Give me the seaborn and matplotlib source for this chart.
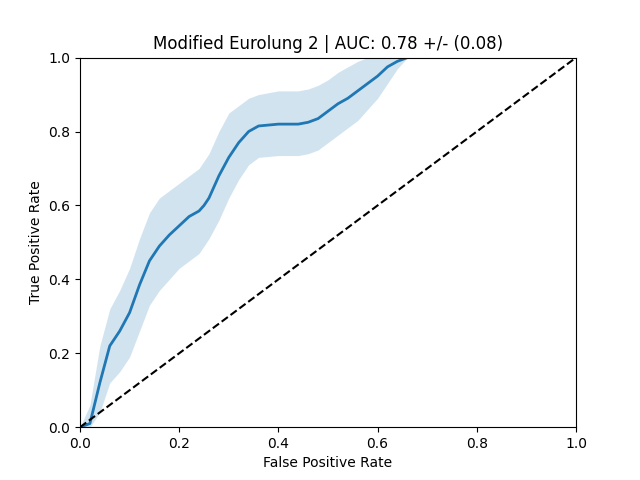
import matplotlib
matplotlib.use("Agg")
import matplotlib.pyplot as plt
import seaborn as sns
import pandas as pd

fpr = [0.0, 0.02, 0.04, 0.06, 0.08, 0.10, 0.12, 0.14, 0.16, 0.18, 0.20, 0.22, 0.24, 0.25, 0.26,
       0.28, 0.30, 0.32, 0.34, 0.36, 0.40, 0.44, 0.46, 0.48, 0.50, 0.52, 0.54, 0.56, 0.58,
       0.60, 0.62, 0.64, 0.66, 0.70, 0.80, 0.90, 1.0]
tpr_mean = [0.0, 0.01, 0.12, 0.22, 0.26, 0.31, 0.385, 0.45, 0.49, 0.52, 0.545, 0.57, 0.585, 0.60, 0.62,
            0.68, 0.73, 0.77, 0.80, 0.815, 0.82, 0.82, 0.825, 0.835, 0.855, 0.875, 0.89, 0.91, 0.93,
            0.95, 0.975, 0.99, 1.0, 1.0, 1.0, 1.0, 1.0]
tpr_upper = [0.0, 0.06, 0.22, 0.32, 0.37, 0.43, 0.51, 0.58, 0.62, 0.64, 0.66, 0.68, 0.70, 0.72, 0.74,
             0.80, 0.85, 0.87, 0.89, 0.90, 0.91, 0.91, 0.915, 0.925, 0.94, 0.96, 0.975, 0.99, 1.0,
             1.0, 1.0, 1.0, 1.0, 1.0, 1.0, 1.0, 1.0]
tpr_lower = [0.0, 0.0, 0.04, 0.12, 0.15, 0.19, 0.26, 0.33, 0.37, 0.40, 0.43, 0.45, 0.47, 0.49, 0.51,
             0.56, 0.62, 0.67, 0.71, 0.73, 0.735, 0.735, 0.74, 0.75, 0.77, 0.79, 0.81, 0.83, 0.86,
             0.89, 0.93, 0.97, 1.0, 1.0, 1.0, 1.0, 1.0]

df = pd.DataFrame({"fpr": fpr, "tpr": tpr_mean})
fig, ax = plt.subplots(figsize=(6.4, 4.8), dpi=100)
ax.fill_between(fpr, tpr_lower, tpr_upper, color="#1f77b4", alpha=0.2, linewidth=0)
sns.lineplot(data=df, x="fpr", y="tpr", ax=ax, color="#1f77b4", linewidth=2)
ax.plot([0, 1], [0, 1], "k--", linewidth=1.5)
ax.set_xlim(0, 1)
ax.set_ylim(0, 1)
ax.set_xlabel("False Positive Rate")
ax.set_ylabel("True Positive Rate")
ax.set_title("Modified Eurolung 2 | AUC: 0.78 +/- (0.08)")
fig.savefig("out.png", dpi=100)
